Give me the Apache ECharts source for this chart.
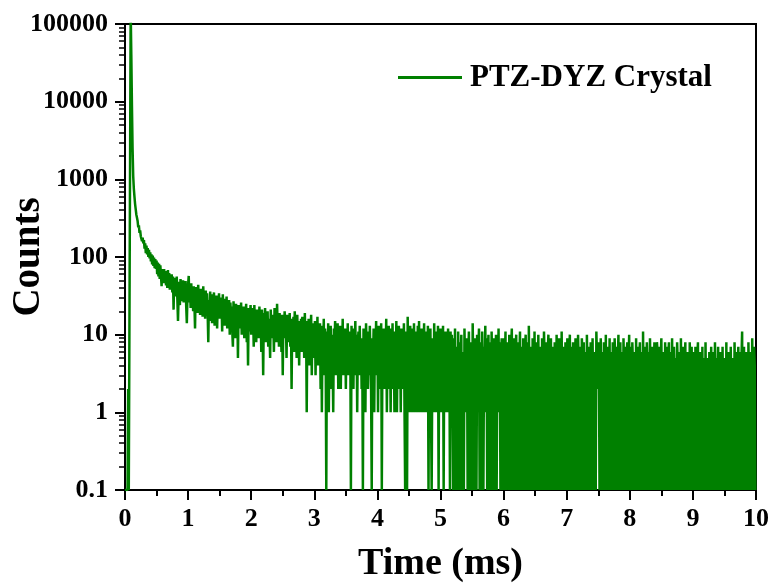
<!DOCTYPE html>
<html>
<head>
<meta charset="utf-8">
<script src="https://cdn.jsdelivr.net/npm/echarts@6/dist/echarts.min.js"></script>
<style>
  html, body { margin: 0; padding: 0; background: #fff; }
  #chart { width: 771px; height: 583px; }
</style>
</head>
<body>
<div id="chart"></div>
<script>
// time step of the decay trace, ms per channel
var dt = 0.01;

// counts per channel, one array per millisecond
var counts0 = [
  0,0,0,0,0,2,0,0,0,150000,
  40000,9000,2500,1100,760,600,480,410,350,320,
  290,240,255,205,220,185,195,160,178,150,
  165,128,150,112,140,108,130,100,124,96,
  115,88,108,80,104,77,98,72,94,70,
  90,60,85,56,82,52,78,58,42,70,
  74,46,70,50,66,43,64,40,68,45,
  62,38,58,42,60,35,56,21,54,40,
  53,31,56,28,15,33,48,24,52,30,
  47,27,50,26,45,30,49,23,14,32
];
var counts1 = [
  44,57,26,40,22,46,28,38,20,42,
  25,12,41,23,36,19,44,27,33,18,
  39,22,35,17,42,24,31,16,37,21,
  34,19,8,28,15,36,22,30,14,33,
  20,35,13,29,18,32,12,27,19,34,
  16,30,21,26,11,33,17,25,13,29,
  18,31,12,24,15,28,10,26,17,23,
  11,7,27,14,22,9,25,16,20,5,
  24,12,21,15,26,10,19,13,23,9,
  20,14,25,8,18,4,22,11,17,24
];
var counts2 = [
  10,22,13,19,7,24,12,17,8,21,
  14,20,9,23,11,18,6,21,13,3,
  19,10,22,8,17,12,20,7,16,11,
  5,21,9,18,13,15,6,22,10,17,
  8,25,12,16,7,19,11,14,6,18,
  3,17,9,20,12,15,5,18,8,14,
  11,19,7,16,2,13,9,17,6,20,
  10,14,5,18,8,15,4,13,9,16,
  6,17,11,14,5,19,8,12,1,15,
  7,16,4,13,10,18,3,14,8,12
];
var counts3 = [
  5,15,3,12,8,17,4,11,6,14,
  2,13,1,10,5,16,3,12,7,0,
  11,4,14,1,9,6,13,2,10,5,
  1,12,7,15,3,10,5,14,2,9,
  6,13,2,11,4,16,3,9,7,12,
  2,10,5,14,3,8,6,11,0,13,
  4,9,2,12,6,15,3,10,1,8,
  11,3,13,5,9,2,7,0,12,4,
  10,1,14,6,8,2,11,3,13,5,
  2,0,9,4,12,1,10,6,15,3
];
var counts4 = [
  11,1,13,4,8,2,14,0,9,3,
  12,2,10,5,16,1,7,3,13,2,
  9,1,12,4,14,2,8,1,11,3,
  15,1,10,2,13,5,9,1,12,2,
  8,3,14,1,0,6,11,0,17,2,
  10,1,13,4,9,1,12,2,14,1,
  11,3,8,1,13,2,15,1,10,4,
  12,1,9,2,14,1,11,3,8,1,
  13,0,10,2,12,1,0,4,9,1,
  14,2,11,1,8,3,13,0,10,1
];
var counts5 = [
  12,1,9,2,13,0,10,1,11,2,
  9,1,12,3,8,0,11,1,10,2,
  0,9,1,12,0,7,3,0,11,2,
  0,8,4,10,0,6,2,0,12,3,
  7,1,9,0,5,11,2,0,8,3,
  0,14,4,0,9,2,7,0,10,1,
  6,12,0,3,8,0,11,2,0,7,
  4,13,1,9,0,5,10,0,8,2,
  0,11,3,0,7,9,0,4,10,0,
  6,2,12,1,8,0,5,9,0,3
];
var counts6 = [
  9,0,4,11,0,6,2,8,0,10,
  3,0,7,12,1,0,9,4,0,6,
  10,0,2,8,0,5,11,0,3,7,
  0,9,1,0,6,10,0,4,8,0,
  13,2,0,7,5,0,9,3,0,11,
  1,0,8,6,0,10,2,0,7,4,
  0,9,3,0,11,5,0,2,8,0,
  6,10,0,4,0,9,1,7,0,5,
  0,8,3,0,10,2,0,6,9,0,
  4,0,11,1,0,7,5,0,8,2
];
var counts7 = [
  0,9,3,0,6,10,0,2,7,0,
  8,1,0,5,9,0,3,0,10,4,
  0,7,2,0,9,5,0,8,1,0,
  6,0,10,3,0,7,2,0,8,4,
  0,9,1,0,6,3,0,11,5,7,
  2,8,0,4,9,0,6,1,0,8,
  3,0,10,0,5,7,0,2,9,0,
  6,1,0,8,4,0,9,3,0,7,
  0,5,10,0,2,8,0,6,1,0,
  9,3,0,7,0,5,8,0,4,10
];
var counts8 = [
  0,7,2,0,8,4,0,6,1,0,
  9,0,3,7,0,5,8,0,2,6,
  0,11,1,0,7,3,0,8,4,0,
  6,0,9,2,0,5,7,0,3,8,
  0,4,0,8,6,0,2,7,0,5,
  9,1,0,6,3,0,8,0,4,7,
  0,5,8,0,2,6,0,9,1,0,
  7,3,0,5,0,8,4,0,6,2,
  0,9,1,0,7,4,0,3,8,0,
  5,0,6,2,0,8,3,0,7,1
];
var counts9 = [
  0,6,3,0,7,1,0,5,8,0,
  4,0,6,2,0,7,0,3,5,0,
  8,1,0,5,3,0,6,0,2,7,
  0,4,6,0,1,8,0,5,0,3,
  7,0,2,6,0,4,0,7,1,0,
  5,3,0,8,0,2,6,0,4,0,
  7,1,0,5,3,0,8,2,0,6,
  0,4,7,0,2,6,0,5,11,0,
  3,7,0,1,6,0,4,0,8,2,
  0,6,3,0,9,1,0,7,4,0
];

var seriesName = 'PTZ-DYZ Crystal';
var yTicks = [0.1, 1, 10, 100, 1000, 10000, 100000];
var yTickLabels = ['0.1', '1', '10', '100', '1000', '10000', '100000'];
var minorSteps = [2, 3, 4, 5, 6, 7, 8, 9];

var counts = [].concat(counts0, counts1, counts2, counts3, counts4,
  counts5, counts6, counts7, counts8, counts9);

// zero counts sit on the bottom of the log axis
var data = counts.map(function (c, i) {
  return [+(i * dt).toFixed(2), c > 0 ? c : 0.1];
});

var minorTicks = [];
yTicks.slice(0, -1).forEach(function (d) {
  minorSteps.forEach(function (k) { minorTicks.push(+(d * k).toPrecision(3)); });
});

var font = 'Liberation Serif';
var labelStyle = { fontFamily: font, fontWeight: 'bold', fontSize: 26, color: '#000' };

var chart = echarts.init(document.getElementById('chart'));
chart.setOption({
  animation: false,
  backgroundColor: '#fff',
  grid: {
    left: 125, right: 15, top: 24, bottom: 93,
    outerBoundsMode: 'none', containLabel: false,
    show: true, borderColor: '#000', borderWidth: 2, backgroundColor: 'transparent'
  },
  legend: {
    data: [seriesName],
    left: 398, top: 62, padding: 0,
    icon: 'rect', itemWidth: 64, itemHeight: 3, itemGap: 0,
    textStyle: { fontFamily: font, fontWeight: 'bold', fontSize: 31, color: '#000', padding: [0, 0, 0, 3] }
  },
  xAxis: {
    type: 'value', min: 0, max: 10, interval: 1,
    name: 'Time (ms)', nameLocation: 'middle', nameGap: 55,
    nameTextStyle: { fontFamily: font, fontWeight: 'bold', fontSize: 38, color: '#000' },
    axisLine: { onZero: false, lineStyle: { color: '#000', width: 2 } },
    axisTick: { inside: false, length: 10, lineStyle: { color: '#000', width: 2 } },
    minorTick: { show: true, splitNumber: 2, length: 6, lineStyle: { color: '#000', width: 2 } },
    axisLabel: Object.assign({ margin: 16 }, labelStyle),
    splitLine: { show: false }
  },
  yAxis: [{
    type: 'log', logBase: 10, min: 0.1, max: 100000, position: 'left',
    name: 'Counts', nameLocation: 'middle', nameGap: 77, nameRotate: 90,
    nameMoveOverlap: false,
    nameTextStyle: { fontFamily: font, fontWeight: 'bold', fontSize: 39, color: '#000' },
    axisLine: { show: true, lineStyle: { color: '#000', width: 2 } },
    axisTick: { show: true, inside: false, length: 10, customValues: yTicks, lineStyle: { color: '#000', width: 2 } },
    axisLabel: Object.assign({
      margin: 17, customValues: yTicks,
      formatter: function (v) {
        for (var i = 0; i < yTicks.length; i++) {
          if (Math.abs(Math.log10(yTicks[i]) - Math.log10(v)) < 1e-6) return yTickLabels[i];
        }
        return '';
      }
    }, labelStyle),
    splitLine: { show: false }
  }, {
    type: 'log', logBase: 10, min: 0.1, max: 100000, position: 'left',
    axisLine: { show: false },
    axisTick: { show: true, inside: false, length: 6, customValues: minorTicks, lineStyle: { color: '#000', width: 1.5 } },
    axisLabel: { show: false },
    splitLine: { show: false }
  }],
  series: [{
    name: seriesName,
    type: 'line',
    yAxisIndex: 0,
    data: data,
    showSymbol: false,
    symbol: 'none',
    sampling: null,
    clip: true,
    color: '#008000',
    lineStyle: { color: '#008000', width: 2.5 }
  }]
});
</script>
</body>
</html>
